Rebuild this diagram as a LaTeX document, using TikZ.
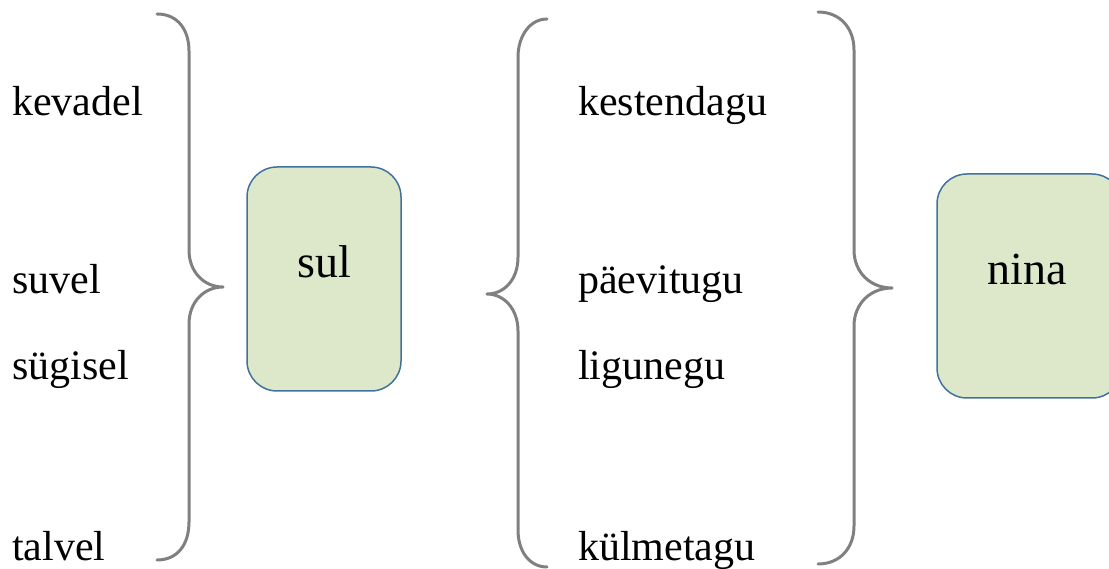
\documentclass[tikz,border=0pt]{standalone}
\usepackage{fontspec}
\setmainfont{Liberation Serif}
\definecolor{bracegray}{RGB}{128,128,128}
\definecolor{boxfill}{RGB}{221,232,203}
\definecolor{boxline}{RGB}{65,113,156}
\begin{document}
\begin{tikzpicture}[x=1pt,y=-1pt,
  lbl/.style={anchor=base west,inner sep=0pt,font=\fontsize{42}{50}\selectfont},
  bracepath/.style={draw=bracegray,line width=3pt,line cap=round,line join=round},
  wordbox/.style={draw=boxline,line width=1.5pt,fill=boxfill,rounded corners=30pt}]
\useasboundingbox (0,0) rectangle (1109,569);
% left labels
\node[lbl] (kevadel) at (12,116) {kevadel};
\node[lbl] (suvel) at (12,294) {suvel};
\node[lbl] (sugisel) at (12,380) {sügisel};
\node[lbl] (talvel) at (12,560) {talvel};
% middle labels
\node[lbl] (kestendagu) at (578,116) {kestendagu};
\node[lbl] (paevitugu) at (578,294) {päevitugu};
\node[lbl] (ligunegu) at (578,380) {ligunegu};
\node[lbl] (kulmetagu) at (578,560) {külmetagu};
% brace 1 (right brace)
\draw[bracepath] (157,14) .. controls (178,14) and (189,30) .. (189,51)
  -- (189,250) .. controls (189,272) and (204,287) .. (223,287)
  .. controls (204,287) and (189,302) .. (189,324)
  -- (189,522) .. controls (189,544) and (178,560) .. (157,560);
% brace 2 (left brace)
\draw[bracepath] (547,19) .. controls (530,19) and (518,36) .. (518,57)
  -- (518,257) .. controls (518,280) and (504,294) .. (487,294)
  .. controls (504,294) and (518,309) .. (518,331)
  -- (518,530) .. controls (518,552) and (530,567) .. (547,567);
% brace 3 (right brace)
\draw[bracepath] (818,12) .. controls (840,12) and (854,28) .. (854,50)
  -- (854,250) .. controls (854,272) and (870,288) .. (892,288)
  .. controls (870,288) and (854,304) .. (854,326)
  -- (854,526) .. controls (854,548) and (840,564) .. (818,564);
% boxes
\draw[wordbox] (247,167) rectangle (401,391);
\node[anchor=base,inner sep=0pt,font=\fontsize{46}{54}\selectfont] (sul) at (324,278) {sul};
\draw[wordbox] (937,174) rectangle (1122,398);
\node[anchor=base,inner sep=0pt,font=\fontsize{46}{54}\selectfont] (nina) at (1027,285) {nina};
\end{tikzpicture}
\end{document}
